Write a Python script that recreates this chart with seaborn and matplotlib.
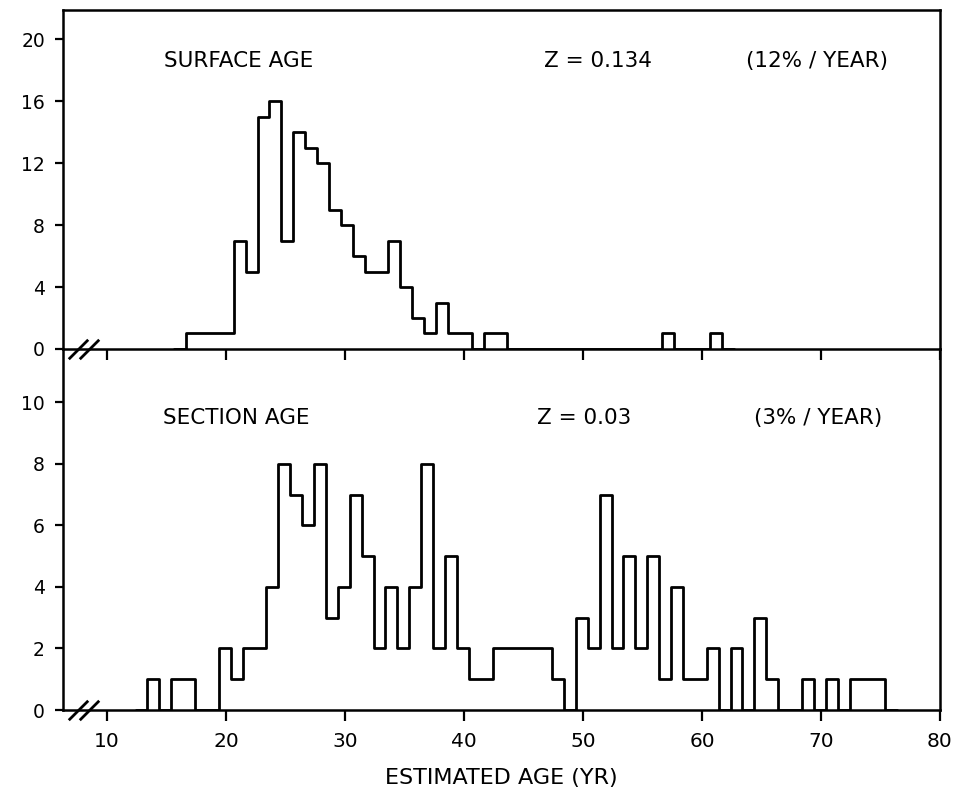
import numpy as np
import pandas as pd
import matplotlib
matplotlib.use("Agg")
import matplotlib.pyplot as plt
import seaborn as sns

# ---------------- data ----------------
bin_width = 1.0

# SURFACE AGE histogram (bins of 1 yr starting at 15.65 yr)
surface_start = 15.65
surface_counts = [0, 1, 1, 1, 1, 7, 5, 15, 16, 7, 14, 13, 12, 9, 8, 6, 5, 5, 7, 4,
                  2, 1, 3, 1, 1, 0, 1, 1,
                  0, 0, 0, 0, 0, 0, 0, 0, 0, 0, 0, 0, 0,
                  1, 0, 0, 0, 1, 0]

# SECTION AGE histogram (bins of 1 yr starting at 12.4 yr)
section_start = 12.4
section_counts = [0, 1, 0, 1, 1, 0, 0, 2, 1, 2, 2, 4, 8, 7, 6, 8, 3, 4, 7, 5,
                  2, 4, 2, 4, 8, 2, 5, 2, 1, 1, 2, 2, 2, 2, 2, 1, 0, 3, 2, 7,
                  2, 5, 2, 5, 1, 4, 1, 1, 2, 0, 2, 0, 3, 1, 0, 0, 1, 0, 1, 0,
                  1, 1, 1, 0]

x_ticks = [10, 20, 30, 40, 50, 60, 70, 80]
top_yticks = [0, 4, 8, 12, 16, 20]
bottom_yticks = [0, 2, 4, 6, 8, 10]

top_title = "SURFACE AGE"
top_z = "Z = 0.134"
top_rate = "(12% / YEAR)"
bottom_title = "SECTION AGE"
bottom_z = "Z = 0.03"
bottom_rate = "(3% / YEAR)"
x_label = "ESTIMATED AGE (YR)"

# ---------------- style ----------------
sns.set_style("ticks")
plt.rcParams["font.family"] = ["DejaVu Sans"]
plt.rcParams["text.color"] = "black"
plt.rcParams["axes.labelcolor"] = "black"
plt.rcParams["xtick.color"] = "black"
plt.rcParams["ytick.color"] = "black"

fig = plt.figure(figsize=(9.57, 7.89), dpi=100)
ax_bot = fig.add_axes([0.0658, 0.1001, 0.9164, 0.4576])
ax_top = fig.add_axes([0.0658, 0.5577, 0.9164, 0.4297])
for ax in (ax_top, ax_bot):
    ax.patch.set_alpha(0)

XLIM = (6.3, 80.0)


def draw_hist(ax, start, counts):
    counts = [float(c) for c in counts]
    edges = [start + bin_width * i for i in range(len(counts) + 1)]
    df = pd.DataFrame({
        "age": [e + bin_width / 2 for e in edges[:-1]],
        "count": counts,
    })
    sns.histplot(data=df, x="age", weights="count", bins=edges,
                 element="step", fill=False, color="black", linewidth=2.0,
                 ax=ax)


draw_hist(ax_top, surface_start, surface_counts)
draw_hist(ax_bot, section_start, section_counts)

for ax in (ax_top, ax_bot):
    ax.set_xlim(*XLIM)
    ax.set_xticks(x_ticks)
    ax.set_ylabel("")
    ax.set_xlabel("")
    for sp in ax.spines.values():
        sp.set_visible(True)
        sp.set_linewidth(1.8)
        sp.set_color("black")
        sp.set_zorder(4)
    ax.tick_params(axis="y", direction="out", length=6, width=1.6, pad=7,
                   labelsize=13.5, colors="black")
    ax.tick_params(axis="x", direction="out", length=8, width=1.6, pad=8,
                   labelsize=14.5, colors="black")
    ax.grid(False)
    # axis break marks
    ax.plot([7.55, 8.5], [0, 0], linestyle="none", marker=[(-1, -1), (1, 1)],
            markersize=14, markeredgewidth=2.0, color="black", clip_on=False,
            zorder=6)

ax_top.set_ylim(0, 21.9)
ax_top.set_yticks(top_yticks)
ax_top.tick_params(axis="x", labelbottom=False)

ax_bot.set_ylim(0, 11.73)
ax_bot.set_yticks(bottom_yticks)
ax_bot.spines["top"].set_visible(False)
ax_bot.set_xlabel(x_label, fontsize=16, labelpad=12, color="black")

txt = dict(fontsize=15.5, ha="center", va="center", color="black")
ax_top.text(21.05, 18.6, top_title, **txt)
ax_top.text(51.3, 18.6, top_z, **txt)
ax_top.text(69.7, 18.6, top_rate, **txt)
ax_bot.text(20.85, 9.49, bottom_title, **txt)
ax_bot.text(50.1, 9.49, bottom_z, **txt)
ax_bot.text(69.8, 9.49, bottom_rate, **txt)

fig.savefig("out.png", dpi=100, facecolor="white")
